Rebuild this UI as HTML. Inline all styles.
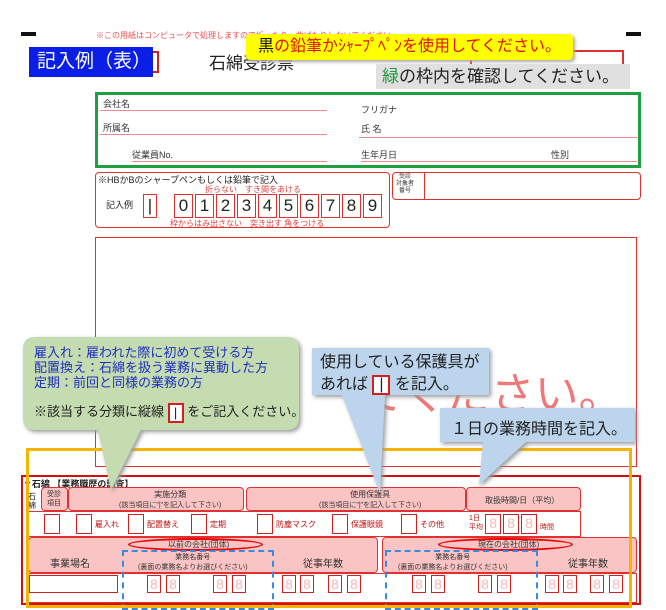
<!DOCTYPE html>
<html><head><meta charset="utf-8"><style>
*{margin:0;padding:0;box-sizing:border-box}
body{width:666px;height:600px;position:relative;overflow:hidden;background:#fff;font-family:"Liberation Sans","Noto Sans CJK JP",sans-serif}
div,span{position:absolute}
.r{border:1px solid #e03030}
.pk{background:#fbc4c4;border:1px solid #e03030;border-radius:4px}
.t{white-space:nowrap;color:#c01010}
.ln{height:1px;background:#e88}
.bx{border:1.5px solid #d02020;background:#fff}
.g8{color:#f4b8b8;font-size:14px;text-align:center;line-height:16px}
.dg{top:194px;width:19px;height:24px;border:1px solid #e03030;font-size:17px;line-height:22px;text-align:center;color:#222}
</style></head><body>
<div style="left:21px;top:32px;width:15px;height:4px;background:#111"></div>
<div style="left:626px;top:32px;width:15px;height:4px;background:#111"></div>
<div class="t" style="left:96px;top:30px;font-size:8px;color:#f05050">※この用紙はコンピュータで処理しますので折ったり、曲げたりしないでください。</div>
<div style="left:153px;top:51px;width:6px;height:22px;border:2px solid #d02020;border-left:none"></div>
<div style="left:29px;top:47px;width:124px;height:30px;background:#0a1ee6;color:#fff;font-size:19px;line-height:30px;padding-left:8px">記入例（表）</div>
<div class="t" style="left:209px;top:49px;font-size:17px;color:#222">石綿受診票</div>
<div class="r" style="left:470px;top:50px;width:154px;height:16px;border-width:2px"></div>
<div style="left:246px;top:34px;width:327px;height:26px;background:#ffff00;border-radius:4px;box-shadow:2px 2px 3px #aaa;font-size:16px;line-height:26px;text-align:center;color:#111;white-space:nowrap">黒<span style="position:static;color:#e01010">の鉛筆かｼｬｰﾌﾟﾍﾟﾝを使用してください。</span></div>
<div style="left:376px;top:64px;width:254px;height:25px;background:#e0e0e0;font-size:17px;line-height:25px;padding-left:6px;color:#222;white-space:nowrap"><span style="position:static;color:#1a9a3a">緑</span>の枠内を確認してください。</div>
<div style="left:95px;top:92px;width:546px;height:76px;border:3px solid #1fa040"></div>
<div class="t" style="left:103px;top:97px;font-size:9px;color:#333">会社名</div>
<div class="ln" style="left:100px;top:110px;width:227px"></div>
<div class="t" style="left:103px;top:121px;font-size:9px;color:#333">所属名</div>
<div class="ln" style="left:100px;top:134px;width:227px"></div>
<div class="t" style="left:132px;top:148px;font-size:9px;color:#333">従業員No.</div>
<div class="ln" style="left:132px;top:161px;width:195px"></div>
<div class="t" style="left:361px;top:103px;font-size:9px;color:#333">フリガナ</div>
<div class="t" style="left:361px;top:122px;font-size:9px;color:#333">氏 名</div>
<div class="ln" style="left:359px;top:137px;width:278px"></div>
<div class="t" style="left:361px;top:148px;font-size:9px;color:#333">生年月日</div>
<div class="t" style="left:551px;top:148px;font-size:9px;color:#333">性別</div>
<div class="ln" style="left:361px;top:161px;width:276px"></div>
<div class="r" style="left:95px;top:172px;width:295px;height:56px;border-radius:4px"></div>
<div class="t" style="left:98px;top:173px;font-size:9px;color:#222">※HBかBのシャープペンもしくは鉛筆で記入</div>
<div class="t" style="left:106px;top:198px;font-size:9px;color:#222">記入例</div>
<div class="dg" style="left:143px;width:14px">|</div>
<div class="dg" style="left:174px">0</div><div class="dg" style="left:195px">1</div><div class="dg" style="left:216px">2</div><div class="dg" style="left:237px">3</div><div class="dg" style="left:258px">4</div><div class="dg" style="left:279px">5</div><div class="dg" style="left:300px">6</div><div class="dg" style="left:321px">7</div><div class="dg" style="left:342px">8</div><div class="dg" style="left:363px">9</div>
<div class="t" style="left:205px;top:184px;font-size:8px;color:#e04040">折らない　すき間をあける</div>
<div class="t" style="left:170px;top:218px;font-size:8px;color:#e04040">枠からはみ出さない　突き出す 角をつける</div>
<div class="r" style="left:392px;top:172px;width:249px;height:28px;border-radius:4px"></div>
<div style="left:424px;top:172px;width:1px;height:28px;background:#e03030"></div>
<div class="t" style="left:396px;top:174px;font-size:6px;line-height:7px;color:#333;text-align:center">受診<br>対象者<br>番号</div>
<div class="r" style="left:95px;top:237px;width:542px;height:230px"></div>
<div class="t" style="left:360px;top:358px;font-size:44px;color:#f07878">てください。</div>
<!-- lower section -->
<div style="left:21px;top:475px;width:620px;height:130px;border:2px solid #d01010"></div>
<div class="t" style="left:23px;top:477px;font-size:9px;font-weight:bold;color:#222">▼石綿 【業務職歴の調査】</div>
<div class="t" style="left:28px;top:492px;font-size:8px;width:10px;line-height:9px;color:#222;white-space:normal">石綿</div>
<div class="pk" style="left:41px;top:487px;width:27px;height:24px"><span class="t" style="left:5px;top:2px;font-size:7px;line-height:9px;color:#333">受診<br>項目</span></div>
<div class="pk" style="left:68px;top:487px;width:176px;height:24px"><span class="t" style="left:50px;top:1px;font-size:8px;color:#333;text-align:center">実施分類<br><span style="position:static;font-size:7px">(該当項目に"|"を記入して下さい)</span></span></div>
<div class="pk" style="left:246px;top:487px;width:220px;height:24px"><span class="t" style="left:72px;top:1px;font-size:8px;color:#333;text-align:center">使用保護具<br><span style="position:static;font-size:7px">(該当項目に"|"を記入して下さい)</span></span></div>
<div class="pk" style="left:466px;top:487px;width:115px;height:24px"><span class="t" style="left:18px;top:7px;font-size:8px;color:#333">取扱時間/日（平均）</span></div>
<div class="r" style="left:28px;top:511px;width:553px;height:26px"></div>
<div class="bx" style="left:44px;top:514px;width:16px;height:20px"></div>
<div class="bx" style="left:76px;top:514px;width:16px;height:20px"></div><div class="t" style="left:95px;top:519px;font-size:8px">雇入れ</div>
<div class="bx" style="left:128px;top:514px;width:16px;height:20px"></div><div class="t" style="left:147px;top:519px;font-size:8px">配置替え</div>
<div class="bx" style="left:191px;top:514px;width:16px;height:20px"></div><div class="t" style="left:210px;top:519px;font-size:8px">定期</div>
<div class="bx" style="left:257px;top:514px;width:16px;height:20px"></div><div class="t" style="left:276px;top:519px;font-size:8px">防塵マスク</div>
<div class="bx" style="left:332px;top:514px;width:16px;height:20px"></div><div class="t" style="left:351px;top:519px;font-size:8px">保護眼鏡</div>
<div class="bx" style="left:401px;top:514px;width:16px;height:20px"></div><div class="t" style="left:420px;top:519px;font-size:8px">その他</div>
<div class="t" style="left:469px;top:514px;font-size:7px;line-height:9px">1日<br>平均</div>
<div class="bx g8" style="left:485px;top:514px;width:16px;height:20px">8</div>
<div class="bx g8" style="left:503px;top:514px;width:16px;height:20px">8</div>
<div class="bx g8" style="left:521px;top:514px;width:16px;height:20px">8</div>
<div class="t" style="left:540px;top:522px;font-size:7px">時間</div>
<div class="pk" style="left:28px;top:537px;width:350px;height:36px"></div>
<div class="pk" style="left:382px;top:537px;width:255px;height:36px"></div>
<div style="left:128px;top:538px;width:135px;height:13px;border:2px solid #e00;border-radius:50%"></div>
<div class="t" style="left:168px;top:539px;font-size:8px;color:#333">以前の会社(団体)</div>
<div style="left:438px;top:538px;width:135px;height:13px;border:2px solid #e00;border-radius:50%"></div>
<div class="t" style="left:478px;top:539px;font-size:8px;color:#333">現在の会社(団体)</div>
<div class="t" style="left:50px;top:555px;font-size:10px;color:#333">事業場名</div>
<div class="t" style="left:138px;top:552px;font-size:7px;color:#333;text-align:center">業務名番号<br>(裏面の業務名よりお選びください)</div>
<div class="t" style="left:303px;top:555px;font-size:10px;color:#333">従事年数</div>
<div class="t" style="left:398px;top:552px;font-size:7px;color:#333;text-align:center">業務名番号<br>(裏面の業務名よりお選びください)</div>
<div class="t" style="left:568px;top:555px;font-size:10px;color:#333">従事年数</div>
<div class="r" style="left:28px;top:573px;width:609px;height:30px;background:#fff"></div>
<div class="bx" style="left:29px;top:575px;width:89px;height:18px"></div>
<div class="bx g8" style="left:147px;top:575px;width:14px;height:18px">8</div><div class="bx g8" style="left:166px;top:575px;width:14px;height:18px">8</div>
<div class="bx g8" style="left:213px;top:575px;width:14px;height:18px">8</div><div class="bx g8" style="left:232px;top:575px;width:14px;height:18px">8</div>
<div class="bx g8" style="left:282px;top:575px;width:14px;height:18px">8</div><div class="bx g8" style="left:300px;top:575px;width:14px;height:18px">8</div>
<div class="bx g8" style="left:328px;top:575px;width:14px;height:18px">8</div><div class="bx g8" style="left:347px;top:575px;width:14px;height:18px">8</div>
<div class="bx g8" style="left:412px;top:575px;width:14px;height:18px">8</div><div class="bx g8" style="left:431px;top:575px;width:14px;height:18px">8</div>
<div class="bx g8" style="left:478px;top:575px;width:14px;height:18px">8</div><div class="bx g8" style="left:497px;top:575px;width:14px;height:18px">8</div>
<div class="bx g8" style="left:545px;top:575px;width:14px;height:18px">8</div><div class="bx g8" style="left:563px;top:575px;width:14px;height:18px">8</div>
<div class="bx g8" style="left:590px;top:575px;width:14px;height:18px">8</div><div class="bx g8" style="left:609px;top:575px;width:14px;height:18px">8</div>
<div style="left:122px;top:550px;width:152px;height:60px;border:2px dashed #3a8ae0"></div>
<div style="left:385px;top:550px;width:153px;height:60px;border:2px dashed #3a8ae0"></div>
<div style="left:26px;top:448px;width:606px;height:160px;border:3px solid #f5b400"></div>
<!-- bubbles -->
<svg style="position:absolute;left:0;top:0" width="666" height="600">
<g style="filter:drop-shadow(2px 2px 2px #999)">
<path d="M35,337 H287 Q299,337 299,349 V418 Q299,430 287,430 H141 L111,490 L98,430 H35 Q23,430 23,418 V349 Q23,337 35,337 Z" fill="#c4dcb0"/>
<path d="M312,348 H489 V395 H385 L380,493 L342,395 H312 Z" fill="#bcd4ec"/>
<path d="M440,408 H635 V442 H526 L479,485 L483,442 H440 Z" fill="#bcd4ec"/>
</g></svg>
<div class="t" style="left:34px;top:345px;font-size:13px;line-height:15px;color:#2030c0">雇入れ：雇われた際に初めて受ける方<br>配置換え：石綿を扱う業務に異動した方<br>定期：前回と同様の業務の方</div>
<div class="t" style="left:34px;top:401px;font-size:13px;color:#222">※該当する分類に縦線 <span style="position:static;display:inline-block;width:16px;height:20px;border:2px solid #d02020;background:#fff;text-align:center;line-height:16px;vertical-align:middle">|</span> をご記入ください。</div>
<div class="t" style="left:320px;top:352px;font-size:16px;line-height:22px;color:#222">使用している保護具が<br>あれば <span style="position:static;display:inline-block;width:18px;height:20px;border:2px solid #d02020;background:#fff;text-align:center;line-height:16px">|</span> を記入。</div>
<div class="t" style="left:451px;top:415px;font-size:16px;color:#222">１日の業務時間を記入。</div>
</body></html>
